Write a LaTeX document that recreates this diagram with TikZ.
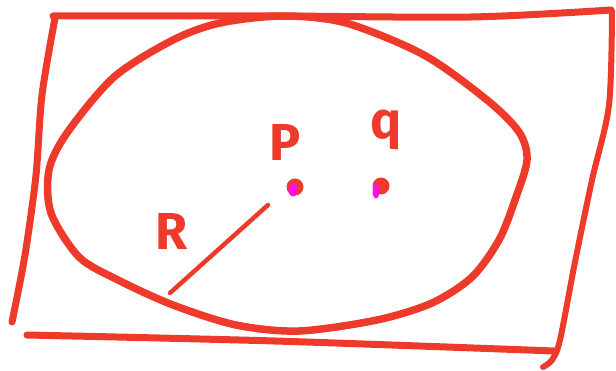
\documentclass[tikz,border=0pt]{standalone}
\usepackage{fontspec}
\setmainfont{Fira Sans}
\usepackage{tikz}
\definecolor{penred}{HTML}{EE3A2A}
\definecolor{penpink}{HTML}{FF10DD}

\begin{document}
\begin{tikzpicture}[
    x=1pt, y=-1pt,
    stroke/.style={draw=penred,line cap=round,line join=round},
    lbl/.style={text=penred,font=\fontsize{52}{52}\selectfont\bfseries,inner sep=0pt},
    blob/.style={circle,fill=penred,inner sep=0pt,minimum size=17pt}
]
\useasboundingbox (0,0) rectangle (616,371);
% frame
\draw[stroke,line width=7pt] plot[smooth] coordinates {(53,16) (275,16) (471,17) (611,10)};
\draw[stroke,line width=7pt] plot[smooth] coordinates {(55,18) (42,95) (36,175) (25,255) (12,322)};
\draw[stroke,line width=7pt] plot[smooth] coordinates {(27,335) (275,341) (554,351)};
\draw[stroke,line width=6pt] plot[smooth] coordinates {(612,11) (609,105) (592,180) (575,262) (560,340) (552,360) (543,367)};
% set
\draw[stroke,line width=7.5pt] plot[smooth cycle] coordinates {
  (283,16) (346,23) (424,55) (487,100) (519,132) (527,160) (515,200)
  (499,240) (472,277) (432,303) (377,320) (299,331) (236,325) (173,305)
  (118,280) (79,257) (51,213) (49,170) (67,133) (114,77) (173,40) (220,23)};
% points
\node[blob] (p) at (295,187) {};
\node[blob] (q) at (381,186) {};
\fill[penpink] (293,190) ellipse (4.5pt and 6.5pt);
\fill[penpink] (376,191) ellipse (3.5pt and 7.5pt);
\node[lbl] (plbl) at (285,142) {P};
\node[lbl] (qlbl) at (386,130) {q};
\node[lbl] (rlbl) at (172,231) {R};
% radius
\coordinate (rend) at (170,293);
\coordinate (rtip) at (268,205);
\draw[stroke,line width=4.5pt] (rend) -- (rtip);
\end{tikzpicture}
\end{document}
